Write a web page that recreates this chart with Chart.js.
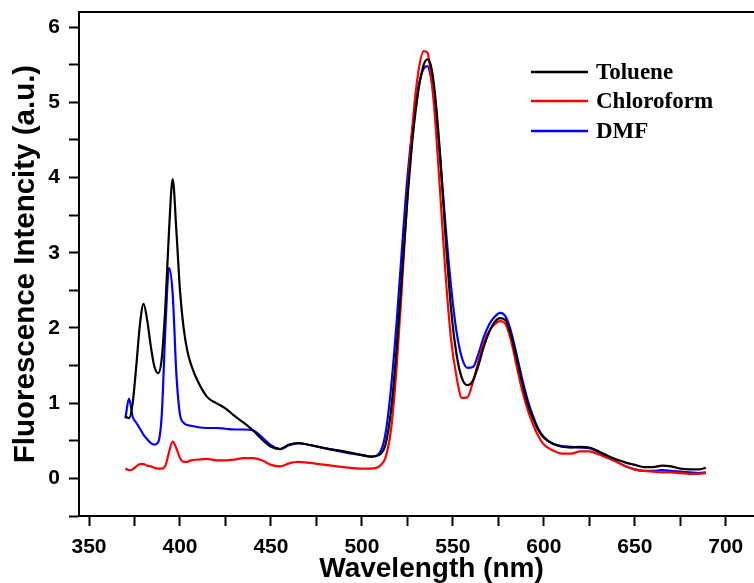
<!DOCTYPE html>
<html>
<head>
<meta charset="utf-8">
<script src="https://cdn.jsdelivr.net/npm/chart.js@4.4.1/dist/chart.umd.min.js"></script>
<style>
html,body{margin:0;padding:0;background:#fff;overflow:hidden;}
#wrap{width:790px;height:583px;}
</style>
</head>
<body>
<div id="wrap"><canvas id="c" width="790" height="583"></canvas></div>
<script>
const wavelength = [370,372,374,376,378,380,382,384,386,388,390,392,394,396,398,400,402,404,406,410,415,420,425,430,435,440,445,450,455,460,465,470,480,490,500,505,510,513,516,519,522,525,528,531,534,536,538,540,543,546,549,552,555,558,561,564,567,570,573,576,579,582,585,588,591,594,597,600,605,610,615,620,625,630,635,640,645,650,655,660,665,670,675,680,685,689];

const toluene = [0.82,0.80,1.00,1.50,2.05,2.32,2.10,1.75,1.48,1.40,1.60,2.30,3.30,3.98,3.30,2.50,2.00,1.70,1.52,1.28,1.08,1.00,0.93,0.83,0.74,0.64,0.52,0.42,0.39,0.45,0.47,0.45,0.40,0.36,0.31,0.29,0.32,0.45,0.90,1.70,2.70,3.70,4.55,5.15,5.50,5.57,5.48,5.15,4.30,3.20,2.25,1.65,1.33,1.24,1.30,1.50,1.75,1.95,2.08,2.13,2.10,1.90,1.60,1.28,1.00,0.80,0.64,0.54,0.46,0.42,0.41,0.42,0.41,0.36,0.30,0.25,0.21,0.18,0.15,0.15,0.17,0.16,0.13,0.12,0.12,0.14];

const chloroform = [0.13,0.11,0.12,0.16,0.19,0.19,0.17,0.16,0.14,0.13,0.13,0.17,0.35,0.49,0.40,0.27,0.22,0.22,0.24,0.25,0.26,0.24,0.24,0.25,0.27,0.27,0.24,0.18,0.16,0.20,0.22,0.21,0.18,0.15,0.13,0.13,0.17,0.28,0.65,1.45,2.55,3.75,4.75,5.40,5.68,5.66,5.35,4.85,3.80,2.70,1.85,1.35,1.07,1.08,1.28,1.55,1.80,1.96,2.05,2.09,2.05,1.83,1.50,1.18,0.92,0.72,0.56,0.45,0.37,0.33,0.33,0.36,0.36,0.32,0.27,0.22,0.16,0.12,0.10,0.09,0.08,0.08,0.07,0.06,0.06,0.07];

const dmf = [0.80,1.06,0.82,0.74,0.66,0.58,0.52,0.47,0.45,0.48,0.85,2.00,2.80,2.45,1.40,0.85,0.74,0.71,0.70,0.68,0.67,0.67,0.66,0.65,0.65,0.64,0.55,0.44,0.39,0.44,0.47,0.45,0.40,0.35,0.31,0.29,0.35,0.60,1.20,2.05,3.05,4.00,4.70,5.20,5.45,5.48,5.32,5.00,4.25,3.35,2.55,1.95,1.60,1.47,1.48,1.65,1.88,2.05,2.15,2.20,2.15,1.95,1.65,1.33,1.05,0.83,0.66,0.55,0.46,0.43,0.42,0.41,0.40,0.35,0.28,0.22,0.16,0.12,0.10,0.10,0.11,0.10,0.09,0.08,0.07,0.08];

const xTickValues = [350,375,400,425,450,475,500,525,550,575,600,625,650,675,700,725];
const xTickLabels = ['350','','400','','450','','500','','550','','600','','650','','700',''];
const yTickValues = [-0.5,0,0.5,1,1.5,2,2.5,3,3.5,4,4.5,5,5.5,6];
const yTickLabels = ['','0','','1','','2','','3','','4','','5','','6'];

const seriesNames = ['Toluene','Chloroform','DMF'];
const seriesColors = ['#000000','#ff0000','#0000ff'];
const xTitle = 'Wavelength (nm)';
const yTitle = 'Fluorescence Intencity (a.u.)';

function pts(arr){ return wavelength.map((w,i)=>({x:w,y:arr[i]})); }
const allSeries = [toluene, chloroform, dmf];

const frame = {
  id:'frame',
  afterDatasetsDraw(chart){
    const a = chart.chartArea, ctx = chart.ctx;
    ctx.save();
    ctx.strokeStyle = '#000'; ctx.lineWidth = 2;
    ctx.beginPath();
    ctx.moveTo(a.left, a.top); ctx.lineTo(a.right, a.top); ctx.lineTo(a.right, a.bottom);
    ctx.stroke();
    const rows = [72, 101, 131];
    ctx.font = 'bold 23px "Liberation Serif", "Times New Roman", serif';
    ctx.textBaseline = 'middle';
    ctx.textAlign = 'left';
    chart.data.datasets.forEach((ds, i) => {
      const y = rows[i];
      ctx.strokeStyle = ds.borderColor; ctx.lineWidth = 2.5;
      ctx.beginPath(); ctx.moveTo(531, y); ctx.lineTo(588, y); ctx.stroke();
      ctx.fillStyle = '#000';
      ctx.fillText(ds.label, 596, y + 1);
    });
    ctx.restore();
  }
};

const tickFont = {family:'"Liberation Sans", Arial, sans-serif', size:21, weight:'bold'};
const xTitleFont = {family:'"Liberation Sans", Arial, sans-serif', size:28, weight:'bold', lineHeight:1.0};
const yTitleFont = {family:'"Liberation Sans", Arial, sans-serif', size:29.5, weight:'bold', lineHeight:1.0};

new Chart(document.getElementById('c'), {
  type:'line',
  data:{
    datasets: allSeries.map((arr,i)=>({
      label: seriesNames[i],
      data: pts(arr),
      borderColor: seriesColors[i],
      backgroundColor: seriesColors[i],
      borderWidth: 2.2,
      pointRadius: 0,
      cubicInterpolationMode: 'monotone',
      fill:false
    }))
  },
  options:{
    responsive:false,
    animation:false,
    layout:{padding:{top:12,left:0,right:6,bottom:0}},
    plugins:{legend:{display:false}, tooltip:{enabled:false}},
    scales:{
      x:{
        type:'linear', min:344.5, max:732,
        afterFit(s){ s.height = 67; s.paddingLeft = 0; s.paddingRight = 0; },
        afterBuildTicks(s){ s.ticks = xTickValues.map(v => ({value:v})); },
        ticks:{autoSkip:false, maxRotation:0, padding:9, color:'#000', font:tickFont,
          callback:(v) => { const i = xTickValues.indexOf(Math.round(v)); return i >= 0 ? xTickLabels[i] : ''; }},
        grid:{drawOnChartArea:false, drawTicks:true, tickLength:10, tickWidth:2, tickColor:'#000'},
        border:{display:true, color:'#000', width:2},
        title:{display:true, text:xTitle, color:'#000', font:xTitleFont, padding:{top:0,bottom:0}}
      },
      y:{
        type:'linear', min:-0.5, max:6.2,
        afterFit(s){ s.width = 79; s.paddingTop = 0; s.paddingBottom = 0; },
        afterBuildTicks(s){ s.ticks = yTickValues.map(v => ({value:v})); },
        ticks:{autoSkip:false, padding:9, color:'#000', font:tickFont,
          callback:(v) => { const i = yTickValues.findIndex(t => Math.abs(t - v) < 1e-6); return i >= 0 ? yTickLabels[i] : ''; }},
        grid:{drawOnChartArea:false, drawTicks:true, tickLength:10, tickWidth:2, tickColor:'#000'},
        border:{display:true, color:'#000', width:2},
        title:{display:true, text:yTitle, color:'#000', font:yTitleFont, padding:{top:11,bottom:0}}
      }
    }
  },
  plugins:[frame]
});
</script>
</body>
</html>
